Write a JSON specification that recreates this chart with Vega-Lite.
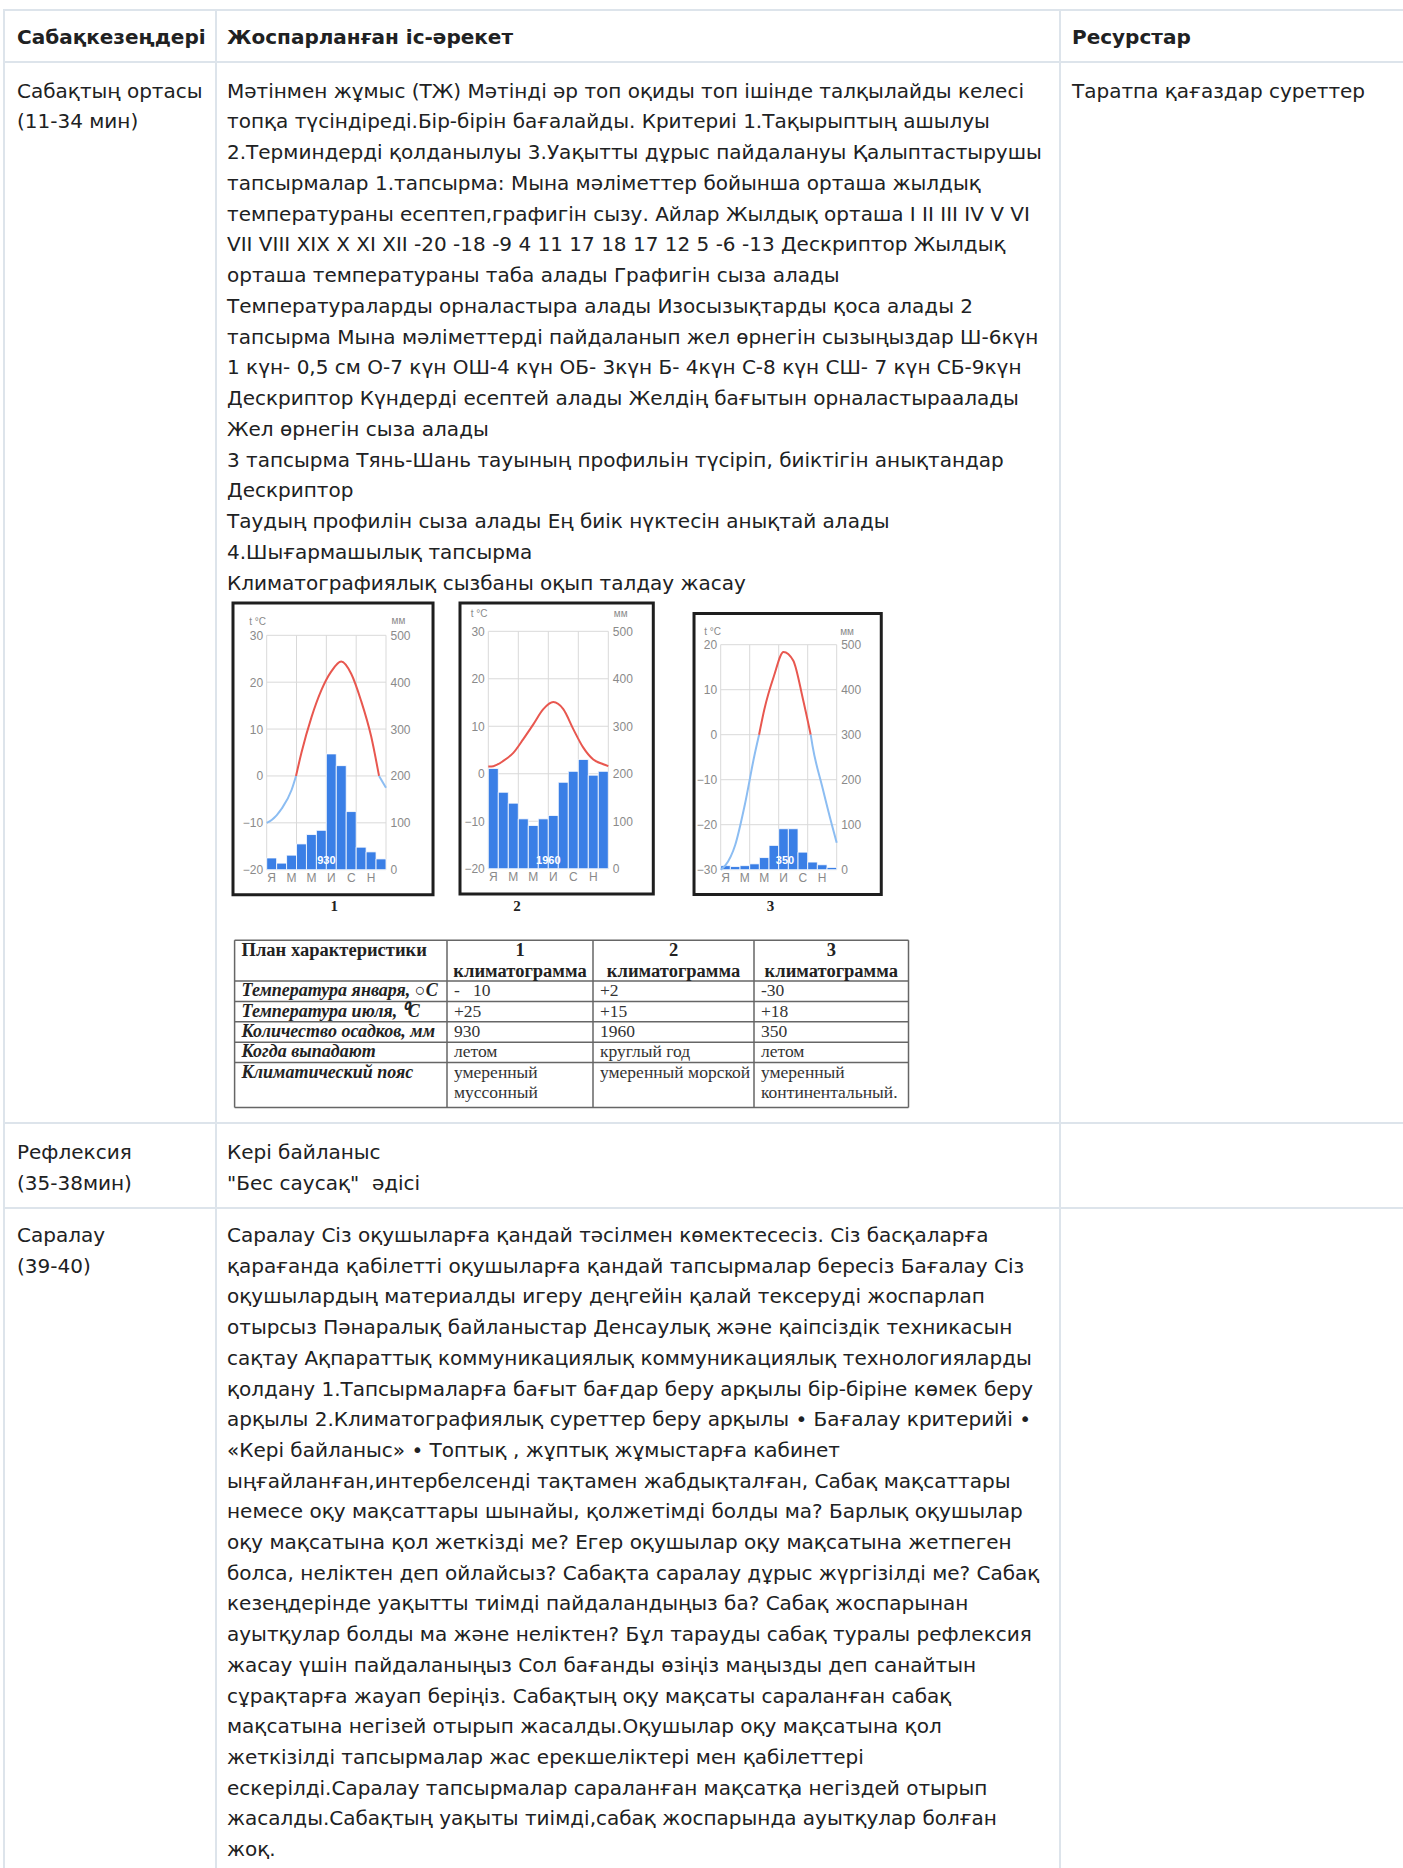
{
"$schema": "https://vega.github.io/schema/vega-lite/v6.json",
"width": 1403, "height": 1868, "padding": 0, "autosize": {"type": "none"},
"background": "white",
"config": {"view": {"stroke": null}, "axis": {"labelFont": "Liberation Sans", "titleFont": "Liberation Sans", "zindex": 1}},
"resolve": {"scale": {"x": "independent", "y": "independent", "color": "independent"}, "axis": {"x": "independent", "y": "independent"}},
"layer": [
{"data": {"values": [
 {"c0":0,"c1":1,"r0":0,"r1":1},{"c0":1,"c1":2,"r0":0,"r1":1},{"c0":2,"c1":3,"r0":0,"r1":1},
 {"c0":0,"c1":1,"r0":1,"r1":2},{"c0":1,"c1":2,"r0":1,"r1":2},{"c0":2,"c1":3,"r0":1,"r1":2},
 {"c0":0,"c1":1,"r0":2,"r1":3},{"c0":1,"c1":2,"r0":2,"r1":3},{"c0":2,"c1":3,"r0":2,"r1":3},
 {"c0":0,"c1":1,"r0":3,"r1":4},{"c0":1,"c1":2,"r0":3,"r1":4},{"c0":2,"c1":3,"r0":3,"r1":4}]},
 "mark": {"type": "rect", "fill": "white", "fillOpacity": 0, "stroke": "#dde4eb", "strokeWidth": 2},
 "encoding": {
  "x": {"field": "c0", "type": "quantitative", "scale": {"domain": [0,1,2,3], "range": [4,216,1060,1430], "nice": false, "zero": false}, "axis": null},
  "x2": {"field": "c1"},
  "y": {"field": "r0", "type": "quantitative", "scale": {"domain": [0,1,2,3,4], "range": [10,62,1123,1208,1900], "nice": false, "zero": false}, "axis": null},
  "y2": {"field": "r1"}}},
{"data": {"values": [
 {"col":0,"line":0,"text":"Сабақкезеңдері"},{"col":1,"line":0,"text":"Жоспарланған іс-әрекет"},{"col":2,"line":0,"text":"Ресурстар"}]},
 "mark": {"type": "text", "align": "left", "baseline": "middle", "font": "DejaVu Sans", "fontSize": 20, "fontWeight": "bold", "color": "#202122"},
 "encoding": {
  "x": {"field": "col", "type": "quantitative", "scale": {"domain": [0,1,2], "range": [17,227,1072], "nice": false, "zero": false}, "axis": null},
  "y": {"field": "line", "type": "quantitative", "scale": {"domain": [0,1], "range": [38,68.7], "nice": false, "zero": false}, "axis": null},
  "text": {"field": "text"}}},
{"data": {"values": [
 {"col":0,"line":0,"text":"Сабақтың ортасы"},
 {"col":0,"line":1,"text":"(11-34 мин)"},
 {"col":2,"line":0,"text":"Таратпа қағаздар суреттер"},
 {"col":1,"line":0,"text":"Мәтінмен жұмыс (ТЖ) Мәтінді әр топ оқиды топ ішінде талқылайды келесі"},
 {"col":1,"line":1,"text":"топқа түсіндіреді.Бір-бірін бағалайды. Критериі 1.Тақырыптың ашылуы"},
 {"col":1,"line":2,"text":"2.Терминдерді қолданылуы 3.Уақытты дұрыс пайдалануы Қалыптастырушы"},
 {"col":1,"line":3,"text":"тапсырмалар 1.тапсырма: Мына мәліметтер бойынша орташа жылдық"},
 {"col":1,"line":4,"text":"температураны есептеп,графигін сызу. Айлар Жылдық орташа I II III IV V VI"},
 {"col":1,"line":5,"text":"VII VIII XIX X XI XII -20 -18 -9 4 11 17 18 17 12 5 -6 -13 Дескриптор Жылдық"},
 {"col":1,"line":6,"text":"орташа температураны таба алады Графигін сыза алады"},
 {"col":1,"line":7,"text":"Температураларды орналастыра алады Изосызықтарды қоса алады 2"},
 {"col":1,"line":8,"text":"тапсырма Мына мәліметтерді пайдаланып жел өрнегін сызыңыздар Ш-6күн"},
 {"col":1,"line":9,"text":"1 күн- 0,5 см О-7 күн ОШ-4 күн ОБ- 3күн Б- 4күн С-8 күн СШ- 7 күн СБ-9күн"},
 {"col":1,"line":10,"text":"Дескриптор Күндерді есептей алады Желдің бағытын орналастыраалады"},
 {"col":1,"line":11,"text":"Жел өрнегін сыза алады"},
 {"col":1,"line":12,"text":"3 тапсырма Тянь-Шань тауының профильін түсіріп, биіктігін анықтандар"},
 {"col":1,"line":13,"text":"Дескриптор"},
 {"col":1,"line":14,"text":"Таудың профилін сыза алады Ең биік нүктесін анықтай алады"},
 {"col":1,"line":15,"text":"4.Шығармашылық тапсырма"},
 {"col":1,"line":16,"text":"Климатографиялық сызбаны оқып талдау жасау"}]},
 "mark": {"type": "text", "align": "left", "baseline": "middle", "font": "DejaVu Sans", "fontSize": 20, "color": "#202122"},
 "encoding": {
  "x": {"field": "col", "type": "quantitative", "scale": {"domain": [0,1,2], "range": [17,227,1072], "nice": false, "zero": false}, "axis": null},
  "y": {"field": "line", "type": "quantitative", "scale": {"domain": [0,16], "range": [91.7,583.6], "nice": false, "zero": false}, "axis": null},
  "text": {"field": "text"}}},
{"data": {"values": [
 {"col":0,"line":0,"text":"Рефлексия"},
 {"col":0,"line":1,"text":"(35-38мин)"},
 {"col":1,"line":0,"text":"Кері байланыс"},
 {"col":1,"line":1,"text":"\"Бес саусақ\"\u00a0 әдісі"}]},
 "mark": {"type": "text", "align": "left", "baseline": "middle", "font": "DejaVu Sans", "fontSize": 20, "color": "#202122"},
 "encoding": {
  "x": {"field": "col", "type": "quantitative", "scale": {"domain": [0,1,2], "range": [17,227,1072], "nice": false, "zero": false}, "axis": null},
  "y": {"field": "line", "type": "quantitative", "scale": {"domain": [0,1], "range": [1153,1183.7], "nice": false, "zero": false}, "axis": null},
  "text": {"field": "text"}}},
{"data": {"values": [
 {"col":0,"line":0,"text":"Саралау"},
 {"col":0,"line":1,"text":"(39-40)"},
 {"col":1,"line":0,"text":"Саралау Сіз оқушыларға қандай тәсілмен көмектесесіз. Сіз басқаларға"},
 {"col":1,"line":1,"text":"қарағанда қабілетті оқушыларға қандай тапсырмалар бересіз Бағалау Сіз"},
 {"col":1,"line":2,"text":"оқушылардың материалды игеру деңгейін қалай тексеруді жоспарлап"},
 {"col":1,"line":3,"text":"отырсыз Пәнаралық байланыстар Денсаулық және қаіпсіздік техникасын"},
 {"col":1,"line":4,"text":"сақтау Ақпараттық коммуникациялық коммуникациялық технологияларды"},
 {"col":1,"line":5,"text":"қолдану 1.Тапсырмаларға бағыт бағдар беру арқылы бір-біріне көмек беру"},
 {"col":1,"line":6,"text":"арқылы 2.Климатографиялық суреттер беру арқылы • Бағалау критерийі •"},
 {"col":1,"line":7,"text":"«Кері байланыс» • Топтық , жұптық жұмыстарға кабинет"},
 {"col":1,"line":8,"text":"ыңғайланған,интербелсенді тақтамен жабдықталған, Сабақ мақсаттары"},
 {"col":1,"line":9,"text":"немесе оқу мақсаттары шынайы, қолжетімді болды ма? Барлық оқушылар"},
 {"col":1,"line":10,"text":"оқу мақсатына қол жеткізді ме? Егер оқушылар оқу мақсатына жетпеген"},
 {"col":1,"line":11,"text":"болса, неліктен деп ойлайсыз? Сабақта саралау дұрыс жүргізілді ме? Сабақ"},
 {"col":1,"line":12,"text":"кезеңдерінде уақытты тиімді пайдаландыңыз ба? Сабақ жоспарынан"},
 {"col":1,"line":13,"text":"ауытқулар болды ма және неліктен? Бұл тарауды сабақ туралы рефлексия"},
 {"col":1,"line":14,"text":"жасау үшін пайдаланыңыз Сол бағанды өзіңіз маңызды деп санайтын"},
 {"col":1,"line":15,"text":"сұрақтарға жауап беріңіз. Сабақтың оқу мақсаты сараланған сабақ"},
 {"col":1,"line":16,"text":"мақсатына негізей отырып жасалды.Оқушылар оқу мақсатына қол"},
 {"col":1,"line":17,"text":"жеткізілді тапсырмалар жас ерекшеліктері мен қабілеттері"},
 {"col":1,"line":18,"text":"ескерілді.Саралау тапсырмалар сараланған мақсатқа негіздей отырып"},
 {"col":1,"line":19,"text":"жасалды.Сабақтың уақыты тиімді,сабақ жоспарында ауытқулар болған"},
 {"col":1,"line":20,"text":"жоқ."}]},
 "mark": {"type": "text", "align": "left", "baseline": "middle", "font": "DejaVu Sans", "fontSize": 20, "color": "#202122"},
 "encoding": {
  "x": {"field": "col", "type": "quantitative", "scale": {"domain": [0,1,2], "range": [17,227,1072], "nice": false, "zero": false}, "axis": null},
  "y": {"field": "line", "type": "quantitative", "scale": {"domain": [0,20], "range": [1236,1850], "nice": false, "zero": false}, "axis": null},
  "text": {"field": "text"}}},

{"data": {"values": [{"chart": 1}]},
 "mark": {"type": "rect", "fill": "white", "fillOpacity": 0, "stroke": "#1e1e1e", "strokeWidth": 3},
 "encoding": {
  "x": {"datum": -3.39, "type": "quantitative", "scale": {"domain": [0,12], "range": [266.7,386], "nice": false, "zero": false}, "axis": null},
  "x2": {"datum": 16.73},
  "y": {"datum": 36.89, "type": "quantitative", "scale": {"domain": [-20,30], "range": [869.7,635.3], "nice": false, "zero": false}, "axis": null},
  "y2": {"datum": -25.33}}},
{"data": {"values": [{"t":-20},{"t":-10},{"t":0},{"t":10},{"t":20},{"t":30}]},
 "mark": {"type": "rule", "color": "#d9d9d9", "strokeWidth": 1},
 "encoding": {
  "y": {"field": "t", "type": "quantitative", "scale": {"domain": [-20,30], "range": [869.7,635.3], "nice": false, "zero": false}, "axis": null},
  "x": {"datum": 0, "type": "quantitative", "scale": {"domain": [0,12], "range": [266.7,386], "nice": false, "zero": false}, "axis": null},
  "x2": {"datum": 12}}},
{"data": {"values": [{"m":0},{"m":3},{"m":6},{"m":9},{"m":12}]},
 "mark": {"type": "rule", "color": "#d9d9d9", "strokeWidth": 1},
 "encoding": {
  "x": {"field": "m", "type": "quantitative", "scale": {"domain": [0,12], "range": [266.7,386], "nice": false, "zero": false}, "axis": null},
  "y": {"datum": -20, "type": "quantitative", "scale": {"domain": [-20,30], "range": [869.7,635.3], "nice": false, "zero": false}, "axis": null},
  "y2": {"datum": 30}}},
{"data": {"values": [{"month":1,"mm":25},{"month":2,"mm":14},{"month":3,"mm":31},{"month":4,"mm":55},{"month":5,"mm":75},{"month":6,"mm":84},{"month":7,"mm":247},{"month":8,"mm":222},{"month":9,"mm":124},{"month":10,"mm":48},{"month":11,"mm":38},{"month":12,"mm":23}]},
 "mark": {"type": "bar", "fill": "#3a7fe6", "stroke": "#ffffff", "strokeWidth": 0.8},
 "encoding": {
  "x": {"field": "month", "type": "ordinal", "scale": {"type": "band", "domain": [1,2,3,4,5,6,7,8,9,10,11,12], "range": [266.7,386], "paddingInner": 0, "paddingOuter": 0},
   "axis": {"orient": "bottom", "offset": -998.3, "zindex": 2, "values": [1,3,5,7,9,11], "labelExpr": "datum.value == 1 ? 'Я' : datum.value == 3 ? 'М' : datum.value == 5 ? 'М' : datum.value == 7 ? 'И' : datum.value == 9 ? 'С' : 'Н'", "ticks": false, "domain": false, "grid": false, "labelAngle": 0, "labelColor": "#8a8a8a", "labelFontSize": 12, "labelPadding": 3, "title": null}},
  "y": {"field": "mm", "type": "quantitative", "scale": {"domain": [0,500], "range": [869.7,635.3], "nice": false, "zero": false},
   "axis": {"orient": "right", "offset": -1017, "zindex": 2, "values": [0,100,200,300,400,500], "ticks": false, "domain": false, "grid": false, "labelColor": "#8a8a8a", "labelFontSize": 12, "labelPadding": 4, "title": "мм", "titleAngle": 0, "titleX": 5, "titleY": 620, "titleAlign": "left", "titleBaseline": "middle", "titleFontSize": 10, "titleFontWeight": "normal", "titleColor": "#8a8a8a"}}}},
{"data": {"values": [
 {"seg":"a","kind":"cold","m":0,"t":-10},{"seg":"a","kind":"cold","m":0.5,"t":-9.4},{"seg":"a","kind":"cold","m":1.5,"t":-7},{"seg":"a","kind":"cold","m":2.5,"t":-3},{"seg":"a","kind":"cold","m":2.95,"t":0},
 {"seg":"b","kind":"warm","m":2.95,"t":0},{"seg":"b","kind":"warm","m":3.5,"t":5},{"seg":"b","kind":"warm","m":4.5,"t":12.5},{"seg":"b","kind":"warm","m":5.5,"t":18.3},{"seg":"b","kind":"warm","m":6.5,"t":22.3},{"seg":"b","kind":"warm","m":7.5,"t":24.4},{"seg":"b","kind":"warm","m":8.5,"t":21.8},{"seg":"b","kind":"warm","m":9.5,"t":16},{"seg":"b","kind":"warm","m":10.5,"t":8.5},{"seg":"b","kind":"warm","m":11.3,"t":0},
 {"seg":"c","kind":"cold","m":11.3,"t":0},{"seg":"c","kind":"cold","m":12,"t":-2.5}]},
 "mark": {"type": "line", "interpolate": "monotone", "strokeWidth": 2},
 "encoding": {
  "x": {"field": "m", "type": "quantitative", "scale": {"domain": [0,12], "range": [266.7,386], "nice": false, "zero": false}, "axis": null},
  "y": {"field": "t", "type": "quantitative", "scale": {"domain": [-20,30], "range": [869.7,635.3], "nice": false, "zero": false},
   "axis": {"orient": "left", "offset": -266.7, "zindex": 2, "values": [-20,-10,0,10,20,30], "ticks": false, "domain": false, "grid": false, "labelColor": "#8a8a8a", "labelFontSize": 12, "labelPadding": 4, "title": "t °C", "titleAngle": 0, "titleX": -18, "titleY": 621, "titleAlign": "left", "titleBaseline": "middle", "titleFontSize": 10, "titleFontWeight": "normal", "titleColor": "#8a8a8a"}},
  "color": {"field": "kind", "type": "nominal", "scale": {"domain": ["warm","cold"], "range": ["#e8574f","#8cbdf2"]}, "legend": null},
  "detail": {"field": "seg"}}},
{"data": {"values": [{"total": "930"}]},
 "mark": {"type": "text", "color": "white", "fontWeight": "bold", "fontSize": 11, "font": "Liberation Sans", "baseline": "middle"},
 "encoding": {
  "x": {"datum": 6, "type": "quantitative", "scale": {"domain": [0,12], "range": [266.7,386], "nice": false, "zero": false}, "axis": null},
  "y": {"datum": -18.1, "type": "quantitative", "scale": {"domain": [-20,30], "range": [869.7,635.3], "nice": false, "zero": false}, "axis": null},
  "text": {"field": "total"}}},
{"data": {"values": [{"n": "1"}]},
 "mark": {"type": "text", "color": "#222", "fontWeight": "bold", "fontSize": 15, "font": "Liberation Serif", "baseline": "middle"},
 "encoding": {
  "x": {"datum": 6.8, "type": "quantitative", "scale": {"domain": [0,12], "range": [266.7,386], "nice": false, "zero": false}, "axis": null},
  "y": {"datum": -27.7, "type": "quantitative", "scale": {"domain": [-20,30], "range": [869.7,635.3], "nice": false, "zero": false}, "axis": null},
  "text": {"field": "n"}}},

{"data": {"values": [{"chart": 2}]},
 "mark": {"type": "rect", "fill": "white", "fillOpacity": 0, "stroke": "#1e1e1e", "strokeWidth": 3},
 "encoding": {
  "x": {"datum": -2.83, "type": "quantitative", "scale": {"domain": [0,12], "range": [488.3,608.3], "nice": false, "zero": false}, "axis": null},
  "x2": {"datum": 16.5},
  "y": {"datum": 35.96, "type": "quantitative", "scale": {"domain": [-20,30], "range": [868.7,631.3], "nice": false, "zero": false}, "axis": null},
  "y2": {"datum": -25.33}}},
{"data": {"values": [{"t":-20},{"t":-10},{"t":0},{"t":10},{"t":20},{"t":30}]},
 "mark": {"type": "rule", "color": "#d9d9d9", "strokeWidth": 1},
 "encoding": {
  "y": {"field": "t", "type": "quantitative", "scale": {"domain": [-20,30], "range": [868.7,631.3], "nice": false, "zero": false}, "axis": null},
  "x": {"datum": 0, "type": "quantitative", "scale": {"domain": [0,12], "range": [488.3,608.3], "nice": false, "zero": false}, "axis": null},
  "x2": {"datum": 12}}},
{"data": {"values": [{"m":0},{"m":3},{"m":6},{"m":9},{"m":12}]},
 "mark": {"type": "rule", "color": "#d9d9d9", "strokeWidth": 1},
 "encoding": {
  "x": {"field": "m", "type": "quantitative", "scale": {"domain": [0,12], "range": [488.3,608.3], "nice": false, "zero": false}, "axis": null},
  "y": {"datum": -20, "type": "quantitative", "scale": {"domain": [-20,30], "range": [868.7,631.3], "nice": false, "zero": false}, "axis": null},
  "y2": {"datum": 30}}},
{"data": {"values": [{"month":1,"mm":211},{"month":2,"mm":161},{"month":3,"mm":138},{"month":4,"mm":105},{"month":5,"mm":91},{"month":6,"mm":105},{"month":7,"mm":112},{"month":8,"mm":182},{"month":9,"mm":205},{"month":10,"mm":230},{"month":11,"mm":197},{"month":12,"mm":205}]},
 "mark": {"type": "bar", "fill": "#3a7fe6", "stroke": "#ffffff", "strokeWidth": 0.8},
 "encoding": {
  "x": {"field": "month", "type": "ordinal", "scale": {"type": "band", "domain": [1,2,3,4,5,6,7,8,9,10,11,12], "range": [488.3,608.3], "paddingInner": 0, "paddingOuter": 0},
   "axis": {"orient": "bottom", "offset": -999.3, "zindex": 2, "values": [1,3,5,7,9,11], "labelExpr": "datum.value == 1 ? 'Я' : datum.value == 3 ? 'М' : datum.value == 5 ? 'М' : datum.value == 7 ? 'И' : datum.value == 9 ? 'С' : 'Н'", "ticks": false, "domain": false, "grid": false, "labelAngle": 0, "labelColor": "#8a8a8a", "labelFontSize": 12, "labelPadding": 3, "title": null}},
  "y": {"field": "mm", "type": "quantitative", "scale": {"domain": [0,500], "range": [868.7,631.3], "nice": false, "zero": false},
   "axis": {"orient": "right", "offset": -794.7, "zindex": 2, "values": [0,100,200,300,400,500], "ticks": false, "domain": false, "grid": false, "labelColor": "#8a8a8a", "labelFontSize": 12, "labelPadding": 4, "title": "мм", "titleAngle": 0, "titleX": 5, "titleY": 613, "titleAlign": "left", "titleBaseline": "middle", "titleFontSize": 10, "titleFontWeight": "normal", "titleColor": "#8a8a8a"}}}},
{"data": {"values": [
 {"seg":"a","kind":"warm","m":0,"t":1.5},{"seg":"a","kind":"warm","m":0.5,"t":1.6},{"seg":"a","kind":"warm","m":1.5,"t":2.7},{"seg":"a","kind":"warm","m":2.5,"t":4.4},{"seg":"a","kind":"warm","m":3.5,"t":7.3},{"seg":"a","kind":"warm","m":4.5,"t":10.4},{"seg":"a","kind":"warm","m":5.5,"t":13.6},{"seg":"a","kind":"warm","m":6.5,"t":15.1},{"seg":"a","kind":"warm","m":7.5,"t":13.6},{"seg":"a","kind":"warm","m":8.5,"t":9.4},{"seg":"a","kind":"warm","m":9.5,"t":5.5},{"seg":"a","kind":"warm","m":10.5,"t":3},{"seg":"a","kind":"warm","m":11.5,"t":2},{"seg":"a","kind":"warm","m":12,"t":1.6}]},
 "mark": {"type": "line", "interpolate": "monotone", "strokeWidth": 2},
 "encoding": {
  "x": {"field": "m", "type": "quantitative", "scale": {"domain": [0,12], "range": [488.3,608.3], "nice": false, "zero": false}, "axis": null},
  "y": {"field": "t", "type": "quantitative", "scale": {"domain": [-20,30], "range": [868.7,631.3], "nice": false, "zero": false},
   "axis": {"orient": "left", "offset": -488.3, "zindex": 2, "values": [-20,-10,0,10,20,30], "ticks": false, "domain": false, "grid": false, "labelColor": "#8a8a8a", "labelFontSize": 12, "labelPadding": 4, "title": "t °C", "titleAngle": 0, "titleX": -18, "titleY": 613, "titleAlign": "left", "titleBaseline": "middle", "titleFontSize": 10, "titleFontWeight": "normal", "titleColor": "#8a8a8a"}},
  "color": {"field": "kind", "type": "nominal", "scale": {"domain": ["warm","cold"], "range": ["#e8574f","#8cbdf2"]}, "legend": null},
  "detail": {"field": "seg"}}},
{"data": {"values": [{"total": "1960"}]},
 "mark": {"type": "text", "color": "white", "fontWeight": "bold", "fontSize": 11, "font": "Liberation Sans", "baseline": "middle"},
 "encoding": {
  "x": {"datum": 6, "type": "quantitative", "scale": {"domain": [0,12], "range": [488.3,608.3], "nice": false, "zero": false}, "axis": null},
  "y": {"datum": -18.4, "type": "quantitative", "scale": {"domain": [-20,30], "range": [868.7,631.3], "nice": false, "zero": false}, "axis": null},
  "text": {"field": "total"}}},
{"data": {"values": [{"n": "2"}]},
 "mark": {"type": "text", "color": "#222", "fontWeight": "bold", "fontSize": 15, "font": "Liberation Serif", "baseline": "middle"},
 "encoding": {
  "x": {"datum": 2.87, "type": "quantitative", "scale": {"domain": [0,12], "range": [488.3,608.3], "nice": false, "zero": false}, "axis": null},
  "y": {"datum": -27.86, "type": "quantitative", "scale": {"domain": [-20,30], "range": [868.7,631.3], "nice": false, "zero": false}, "axis": null},
  "text": {"field": "n"}}},

{"data": {"values": [{"chart": 3}]},
 "mark": {"type": "rect", "fill": "white", "fillOpacity": 0, "stroke": "#1e1e1e", "strokeWidth": 3},
 "encoding": {
  "x": {"datum": -2.76, "type": "quantitative", "scale": {"domain": [0,12], "range": [720.7,836.7], "nice": false, "zero": false}, "axis": null},
  "x2": {"datum": 16.61},
  "y": {"datum": 26.96, "type": "quantitative", "scale": {"domain": [-30,20], "range": [869.7,644.7], "nice": false, "zero": false}, "axis": null},
  "y2": {"datum": -35.5}}},
{"data": {"values": [{"t":-30},{"t":-20},{"t":-10},{"t":0},{"t":10},{"t":20}]},
 "mark": {"type": "rule", "color": "#d9d9d9", "strokeWidth": 1},
 "encoding": {
  "y": {"field": "t", "type": "quantitative", "scale": {"domain": [-30,20], "range": [869.7,644.7], "nice": false, "zero": false}, "axis": null},
  "x": {"datum": 0, "type": "quantitative", "scale": {"domain": [0,12], "range": [720.7,836.7], "nice": false, "zero": false}, "axis": null},
  "x2": {"datum": 12}}},
{"data": {"values": [{"m":0},{"m":3},{"m":6},{"m":9},{"m":12}]},
 "mark": {"type": "rule", "color": "#d9d9d9", "strokeWidth": 1},
 "encoding": {
  "x": {"field": "m", "type": "quantitative", "scale": {"domain": [0,12], "range": [720.7,836.7], "nice": false, "zero": false}, "axis": null},
  "y": {"datum": -30, "type": "quantitative", "scale": {"domain": [-30,20], "range": [869.7,644.7], "nice": false, "zero": false}, "axis": null},
  "y2": {"datum": 20}}},
{"data": {"values": [{"month":1,"mm":9},{"month":2,"mm":7},{"month":3,"mm":9},{"month":4,"mm":13},{"month":5,"mm":27},{"month":6,"mm":54},{"month":7,"mm":91},{"month":8,"mm":91},{"month":9,"mm":39},{"month":10,"mm":17},{"month":11,"mm":11},{"month":12,"mm":5}]},
 "mark": {"type": "bar", "fill": "#3a7fe6", "stroke": "#ffffff", "strokeWidth": 0.8},
 "encoding": {
  "x": {"field": "month", "type": "ordinal", "scale": {"type": "band", "domain": [1,2,3,4,5,6,7,8,9,10,11,12], "range": [720.7,836.7], "paddingInner": 0, "paddingOuter": 0},
   "axis": {"orient": "bottom", "offset": -998.3, "zindex": 2, "values": [1,3,5,7,9,11], "labelExpr": "datum.value == 1 ? 'Я' : datum.value == 3 ? 'М' : datum.value == 5 ? 'М' : datum.value == 7 ? 'И' : datum.value == 9 ? 'С' : 'Н'", "ticks": false, "domain": false, "grid": false, "labelAngle": 0, "labelColor": "#8a8a8a", "labelFontSize": 12, "labelPadding": 3, "title": null}},
  "y": {"field": "mm", "type": "quantitative", "scale": {"domain": [0,500], "range": [869.7,644.7], "nice": false, "zero": false},
   "axis": {"orient": "right", "offset": -566.3, "zindex": 2, "values": [0,100,200,300,400,500], "ticks": false, "domain": false, "grid": false, "labelColor": "#8a8a8a", "labelFontSize": 12, "labelPadding": 4, "title": "мм", "titleAngle": 0, "titleX": 3, "titleY": 631, "titleAlign": "left", "titleBaseline": "middle", "titleFontSize": 10, "titleFontWeight": "normal", "titleColor": "#8a8a8a"}}}},
{"data": {"values": [
 {"seg":"a","kind":"cold","m":0,"t":-30},{"seg":"a","kind":"cold","m":0.5,"t":-29},{"seg":"a","kind":"cold","m":1.5,"t":-24.5},{"seg":"a","kind":"cold","m":2.5,"t":-15.5},{"seg":"a","kind":"cold","m":3.5,"t":-4.5},{"seg":"a","kind":"cold","m":3.97,"t":0},
 {"seg":"b","kind":"warm","m":3.97,"t":0},{"seg":"b","kind":"warm","m":4.5,"t":5.5},{"seg":"b","kind":"warm","m":5.5,"t":13},{"seg":"b","kind":"warm","m":6.5,"t":18.4},{"seg":"b","kind":"warm","m":7.5,"t":16.5},{"seg":"b","kind":"warm","m":8.5,"t":8},{"seg":"b","kind":"warm","m":9.31,"t":0},
 {"seg":"c","kind":"cold","m":9.31,"t":0},{"seg":"c","kind":"cold","m":9.5,"t":-2.5},{"seg":"c","kind":"cold","m":10.5,"t":-11.5},{"seg":"c","kind":"cold","m":11.5,"t":-20},{"seg":"c","kind":"cold","m":12,"t":-24}]},
 "mark": {"type": "line", "interpolate": "monotone", "strokeWidth": 2},
 "encoding": {
  "x": {"field": "m", "type": "quantitative", "scale": {"domain": [0,12], "range": [720.7,836.7], "nice": false, "zero": false}, "axis": null},
  "y": {"field": "t", "type": "quantitative", "scale": {"domain": [-30,20], "range": [869.7,644.7], "nice": false, "zero": false},
   "axis": {"orient": "left", "offset": -720.7, "zindex": 2, "values": [-30,-20,-10,0,10,20], "ticks": false, "domain": false, "grid": false, "labelColor": "#8a8a8a", "labelFontSize": 12, "labelPadding": 4, "title": "t °C", "titleAngle": 0, "titleX": -17, "titleY": 631, "titleAlign": "left", "titleBaseline": "middle", "titleFontSize": 10, "titleFontWeight": "normal", "titleColor": "#8a8a8a"}},
  "color": {"field": "kind", "type": "nominal", "scale": {"domain": ["warm","cold"], "range": ["#e8574f","#8cbdf2"]}, "legend": null},
  "detail": {"field": "seg"}}},
{"data": {"values": [{"total": "350"}]},
 "mark": {"type": "text", "color": "white", "fontWeight": "bold", "fontSize": 11, "font": "Liberation Sans", "baseline": "middle"},
 "encoding": {
  "x": {"datum": 6.65, "type": "quantitative", "scale": {"domain": [0,12], "range": [720.7,836.7], "nice": false, "zero": false}, "axis": null},
  "y": {"datum": -28.07, "type": "quantitative", "scale": {"domain": [-30,20], "range": [869.7,644.7], "nice": false, "zero": false}, "axis": null},
  "text": {"field": "total"}}},
{"data": {"values": [{"n": "3"}]},
 "mark": {"type": "text", "color": "#222", "fontWeight": "bold", "fontSize": 15, "font": "Liberation Serif", "baseline": "middle"},
 "encoding": {
  "x": {"datum": 5.16, "type": "quantitative", "scale": {"domain": [0,12], "range": [720.7,836.7], "nice": false, "zero": false}, "axis": null},
  "y": {"datum": -38.07, "type": "quantitative", "scale": {"domain": [-30,20], "range": [869.7,644.7], "nice": false, "zero": false}, "axis": null},
  "text": {"field": "n"}}},

{"data": {"values": [{"at":-0.5},{"at":1.5},{"at":2.5},{"at":3.5},{"at":4.5},{"at":5.5},{"at":7.7}]},
 "mark": {"type": "rule", "color": "#666666", "strokeWidth": 1.5},
 "encoding": {
  "y": {"field": "at", "type": "quantitative", "scale": {"domain": [0,7], "range": [950.4,1093.2], "nice": false, "zero": false}, "axis": null},
  "x": {"datum": 0, "type": "quantitative", "scale": {"domain": [0,1,2,3,4], "range": [234.6,447,593,754,908.5], "nice": false, "zero": false}, "axis": null},
  "x2": {"datum": 4}}},
{"data": {"values": [{"at":0},{"at":1},{"at":2},{"at":3},{"at":4}]},
 "mark": {"type": "rule", "color": "#666666", "strokeWidth": 1.5},
 "encoding": {
  "x": {"field": "at", "type": "quantitative", "scale": {"domain": [0,1,2,3,4], "range": [234.6,447,593,754,908.5], "nice": false, "zero": false}, "axis": null},
  "y": {"datum": -0.5, "type": "quantitative", "scale": {"domain": [0,7], "range": [950.4,1093.2], "nice": false, "zero": false}, "axis": null},
  "y2": {"datum": 7.7}}},
{"data": {"values": [{"c":0,"line":0,"text":"План характеристики"}]},
 "mark": {"type": "text", "align": "left", "baseline": "middle", "dx": 7, "font": "Liberation Serif", "fontSize": 18.5, "fontWeight": "bold", "color": "#222"},
 "encoding": {
  "x": {"field": "c", "type": "quantitative", "scale": {"domain": [0,1,2,3,4], "range": [234.6,447,593,754,908.5], "nice": false, "zero": false}, "axis": null},
  "y": {"field": "line", "type": "quantitative", "scale": {"domain": [0,7], "range": [950.4,1093.2], "nice": false, "zero": false}, "axis": null},
  "text": {"field": "text"}}},
{"data": {"values": [
 {"c":1.5,"line":0,"text":"1"},{"c":1.5,"line":1,"text":"климатограмма"},
 {"c":2.5,"line":0,"text":"2"},{"c":2.5,"line":1,"text":"климатограмма"},
 {"c":3.5,"line":0,"text":"3"},{"c":3.5,"line":1,"text":"климатограмма"}]},
 "mark": {"type": "text", "align": "center", "baseline": "middle", "font": "Liberation Serif", "fontSize": 18.5, "fontWeight": "bold", "color": "#222"},
 "encoding": {
  "x": {"field": "c", "type": "quantitative", "scale": {"domain": [0,1,2,3,4], "range": [234.6,447,593,754,908.5], "nice": false, "zero": false}, "axis": null},
  "y": {"field": "line", "type": "quantitative", "scale": {"domain": [0,7], "range": [950.4,1093.2], "nice": false, "zero": false}, "axis": null},
  "text": {"field": "text"}}},
{"data": {"values": [
 {"c":0,"line":2,"text":"Температура января, ○С"},
 {"c":0,"line":3,"text":"Температура июля, ⁰С"},
 {"c":0,"line":4,"text":"Количество осадков, мм"},
 {"c":0,"line":5,"text":"Когда выпадают"},
 {"c":0,"line":6,"text":"Климатический пояс"}]},
 "mark": {"type": "text", "align": "left", "baseline": "middle", "dx": 7, "font": "Liberation Serif", "fontSize": 18, "fontWeight": "bold", "fontStyle": "italic", "color": "#222"},
 "encoding": {
  "x": {"field": "c", "type": "quantitative", "scale": {"domain": [0,1,2,3,4], "range": [234.6,447,593,754,908.5], "nice": false, "zero": false}, "axis": null},
  "y": {"field": "line", "type": "quantitative", "scale": {"domain": [0,7], "range": [950.4,1093.2], "nice": false, "zero": false}, "axis": null},
  "text": {"field": "text"}}},
{"data": {"values": [
 {"c":1,"line":2,"text":"\u00a0-\u00a0\u00a0\u00a010"},{"c":2,"line":2,"text":"+2"},{"c":3,"line":2,"text":"-30"},
 {"c":1,"line":3,"text":"+25"},{"c":2,"line":3,"text":"+15"},{"c":3,"line":3,"text":"+18"},
 {"c":1,"line":4,"text":"930"},{"c":2,"line":4,"text":"1960"},{"c":3,"line":4,"text":"350"},
 {"c":1,"line":5,"text":"летом"},{"c":2,"line":5,"text":"круглый год"},{"c":3,"line":5,"text":"летом"},
 {"c":1,"line":6,"text":"умеренный"},{"c":2,"line":6,"text":"умеренный морской"},{"c":3,"line":6,"text":"умеренный"},
 {"c":1,"line":7,"text":"муссонный"},{"c":3,"line":7,"text":"континентальный."}]},
 "mark": {"type": "text", "align": "left", "baseline": "middle", "dx": 7, "font": "Liberation Serif", "fontSize": 17.5, "color": "#333"},
 "encoding": {
  "x": {"field": "c", "type": "quantitative", "scale": {"domain": [0,1,2,3,4], "range": [234.6,447,593,754,908.5], "nice": false, "zero": false}, "axis": null},
  "y": {"field": "line", "type": "quantitative", "scale": {"domain": [0,7], "range": [950.4,1093.2], "nice": false, "zero": false}, "axis": null},
  "text": {"field": "text"}}}
]
}
